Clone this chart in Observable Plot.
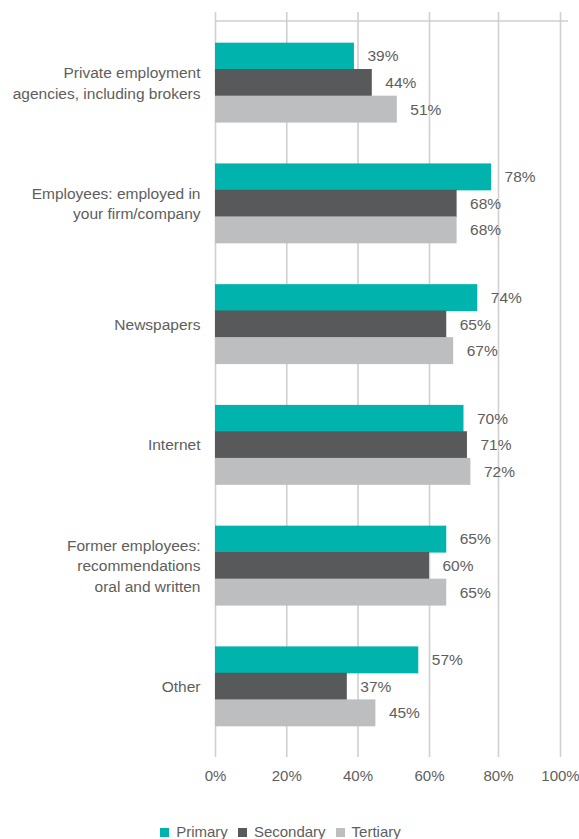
<!DOCTYPE html>
<html>
<head>
<meta charset="utf-8">
<script src="https://cdn.jsdelivr.net/npm/d3@7"></script>
<script src="https://cdn.jsdelivr.net/npm/@observablehq/plot@0.6"></script>
<style>
  html, body { margin: 0; padding: 0; background: #fff; }
  body { width: 579px; font-family: "Liberation Sans", Arial, sans-serif; }
  #legend { display: flex; justify-content: center; align-items: center; margin-top: 3px; margin-left: -8px;
            font-size: 15px; color: #5e5e5e; line-height: 18px; }
  .item { display: flex; align-items: center; margin-right: 10px; }
  .sw { width: 9px; height: 9px; margin-right: 7px; }
</style>
</head>
<body>
<div id="chart"></div>
<div id="legend"></div>
<script>
const categories = [
  "Private employment\nagencies, including brokers",
  "Employees: employed in\nyour firm/company",
  "Newspapers",
  "Internet",
  "Former employees:\nrecommendations\noral and written",
  "Other"
];
const seriesNames = ["Primary", "Secondary", "Tertiary"];
const primary   = [39, 78, 74, 70, 65, 57];
const secondary = [44, 68, 65, 71, 60, 37];
const tertiary  = [51, 68, 67, 72, 65, 45];
const xTicks = [0, 20, 40, 60, 80, 100];

const colors = {Primary: "#00b4ad", Secondary: "#58595b", Tertiary: "#bdbec0"};
const seriesValues = {Primary: primary, Secondary: secondary, Tertiary: tertiary};

const rows = categories.flatMap((c, i) =>
  seriesNames.map(s => ({cat: c, series: s, v: seriesValues[s][i]})));

const W = 579, H = 820, mt = 12, mb = 63, ml = 215, mr = 11;
const pIn = 0.338, pOut = 0.254;
const step = (H - mt - mb) / (categories.length - pIn + 2 * pOut);
const bw = step * (1 - pIn);
const textColor = "#5e5e5e";
const fs = 15.5;

const marks = [
  Plot.gridX(xTicks, {stroke: "#d0d0d0", strokeOpacity: 1, strokeWidth: 1.6}),
  Plot.axisX(xTicks, {tickSize: 0, tickPadding: 13, tickFormat: d => d + "%", fontSize: 15, fill: textColor, label: null}),
  Plot.axisY({tickSize: 0, tickPadding: 15, fontSize: fs, lineHeight: 1.33, dy: -1.5, fill: textColor, label: null})
];
seriesNames.forEach((s, k) => {
  const data = rows.filter(d => d.series === s);
  marks.push(Plot.barX(data, {
    x: "v", y: "cat", fill: colors[s],
    insetTop: Math.max(0, k * bw / 3 - 0.3), insetBottom: Math.max(0, (2 - k) * bw / 3 - 0.3)
  }));
  marks.push(Plot.text(data, {
    x: "v", y: "cat", text: d => d.v + "%", textAnchor: "start",
    dx: 13, dy: (k - 1) * bw / 3, fontSize: fs, fill: textColor
  }));
});

const chart = Plot.plot({
  width: W, height: H,
  marginTop: mt, marginBottom: mb, marginLeft: ml, marginRight: mr,
  style: {fontFamily: "'Liberation Sans', Arial, sans-serif", fontSize: fs + "px", color: textColor, background: "#fff"},
  x: {type: "linear", domain: [0, 40, 60, 80, 100], range: [215, 357.5, 429, 498, 560]},
  y: {type: "band", domain: categories, paddingInner: pIn, paddingOuter: pOut, round: false},
  marks
});
document.getElementById("chart").appendChild(chart);

// top border line of the plot area
d3.select(chart).append("line")
  .attr("x1", ml).attr("x2", W - mr)
  .attr("y1", mt + 9).attr("y2", mt + 9)
  .attr("stroke", "#cfcfcf").attr("stroke-width", 1.6);

const legend = d3.select("#legend");
seriesNames.forEach(s => {
  const it = legend.append("div").attr("class", "item");
  it.append("div").attr("class", "sw").style("background", colors[s]);
  it.append("span").text(s);
});
</script>
</body>
</html>
